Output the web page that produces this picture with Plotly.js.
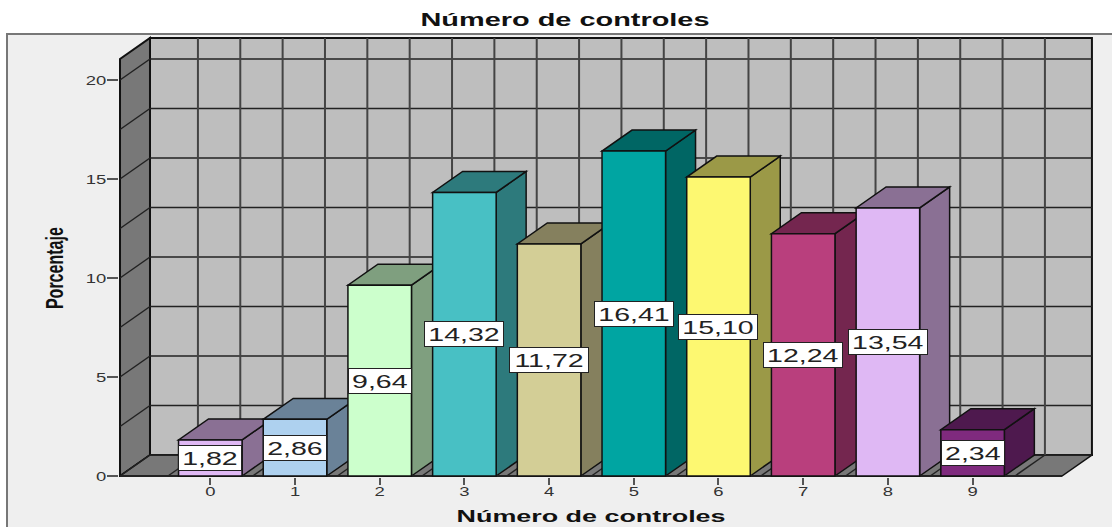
<!DOCTYPE html>
<html>
<head>
<meta charset="utf-8">
<script src="https://cdn.plot.ly/plotly-3.0.1.min.js"></script>
<style>html,body{margin:0;padding:0;background:#fff}</style>
</head>
<body>
<div id="chart" style="width:1112px;height:527px"></div>
<script>
const categories = [0,1,2,3,4,5,6,7,8,9];
const tickLabels = ['0','1','2','3','4','5','6','7','8','9'];
const percentages = [1.82,2.86,9.64,14.32,11.72,16.41,15.10,12.24,13.54,2.34];
const frontColors = ['#DFB8F4','#AED1EF','#CCFFCC','#48C0C4','#D3CE96','#00A5A2','#FDF871','#B93F7D','#DFB8F4','#7F2A7E'];
const depthColors = ['#8A7094','#6A8298','#7F9F7F','#2D7A7C','#85805E','#006664','#9B9947','#74264F','#8A7094','#4E194E'];
const yTicks = [0,5,10,15,20];
const wallLevels = [0,2.5,5,7.5,10,12.5,15,17.5,20];
const gridCats = [-0.5,0,0.5,1,1.5,2,2.5,3,3.5,4,4.5,5,5.5,6,6.5,7,7.5,8,8.5,9,9.5];

const xRange = [-1.0779, 10.4216];
const yRange = [-0.0505, 22.222];
const xLeft = -1.066, xRight = 10.055, yTop = 21.06;
const dx = 0.354, dy = 1.06, barW = 0.75;

const shapes = [];
const poly = (pts, fill, lw, lc) => shapes.push({
  type:'path', layer:'below', xref:'x', yref:'y',
  path:'M ' + pts.map(p => p[0] + ' ' + p[1]).join(' L ') + ' Z',
  fillcolor:fill, line:{color:lc||'#111', width:lw===undefined?1.5:lw}
});
const seg = (x0,y0,x1,y1,c,w) => shapes.push({
  type:'line', layer:'below', xref:'x', yref:'y', x0, y0, x1, y1, line:{color:c||'#222', width:w||1.5}
});

// page frame
shapes.push({type:'rect', layer:'below', xref:'paper', yref:'paper',
  x0:(7-119)/974, x1:1.03, y0:-0.2, y1:1.0045, fillcolor:'#EFEFEF', line:{color:'#777', width:2}});

// walls and floor
poly([[xLeft+dx,dy],[xRight+dx,dy],[xRight+dx,yTop+dy],[xLeft+dx,yTop+dy]], '#BEBEBE', 2);
poly([[xLeft,0],[xLeft+dx,dy],[xLeft+dx,yTop+dy],[xLeft,yTop]], '#787878', 2);
poly([[xLeft,0],[xRight,0],[xRight+dx,dy],[xLeft+dx,dy]], '#787878', 1.5);
wallLevels.forEach(h => {
  seg(xLeft+dx,h+dy,xRight+dx,h+dy);
  seg(xLeft,h,xLeft+dx,h+dy);
});
gridCats.forEach(c => {
  seg(c+dx,dy,c+dx,yTop+dy,'#444',2);
  seg(c,0,c+dx,dy,'#222',1.5);
});

// depth faces of the bars
percentages.forEach((v,i) => {
  const l = categories[i]-barW/2, r = categories[i]+barW/2;
  poly([[r,0],[r+dx,dy],[r+dx,v+dy],[r,v]], depthColors[i]);
  poly([[l,v],[r,v],[r+dx,v+dy],[l+dx,v+dy]], depthColors[i]);
});
seg(xLeft,0,xRight,0,'#222',2);

const annotations = percentages.map((v,i) => {
  const t = v.toFixed(2).replace('.',',');
  return {x:categories[i], y:v/2, xref:'x', yref:'y', text:t, showarrow:false,
    font:{family:'Liberation Sans', size:19, color:'#222'},
    bgcolor:'#FFFFFF', bordercolor:'#222', borderwidth:1, borderpad:0,
    width:t.length>4?78:62, height:24, xanchor:'center', yanchor:'middle'};
});
annotations.push({xref:'paper', yref:'paper', x:(591-119)/974, y:-39/441, yanchor:'middle', xanchor:'center',
  text:'Número de controles', showarrow:false,
  font:{family:'Liberation Sans', size:17, weight:700, color:'#111'}});
annotations.push({xref:'paper', yref:'paper', x:(54-119)/974, y:(477-268)/442, yanchor:'middle', xanchor:'center',
  textangle:-90, text:'Porcentaje', showarrow:false,
  font:{family:'Liberation Sans', size:24, weight:700, color:'#111'}});

const setLen = (t, len) => {
  t.setAttribute('lengthAdjust','spacingAndGlyphs');
  t.setAttribute('textLength', len);
};

Plotly.newPlot('chart', [{
  type:'bar', x:categories, y:percentages, width:barW,
  marker:{color:frontColors, line:{color:'#111', width:1.5}},
  hoverinfo:'x+y'
}], {
  width:1112, height:527, autosize:false,
  margin:{l:119, r:19, t:36, b:50, pad:0},
  paper_bgcolor:'#FFFFFF', plot_bgcolor:'rgba(0,0,0,0)',
  showlegend:false, shapes, annotations,
  title:{text:'Número de controles', x:565/1112, xanchor:'center', y:0.962, yanchor:'middle',
    font:{family:'Liberation Sans', size:18, weight:700, color:'#111'}},
  xaxis:{range:xRange, tickmode:'array', tickvals:categories, ticktext:tickLabels, ticks:'outside', ticklen:7, tickwidth:2,
    tickcolor:'#555', showgrid:false, zeroline:false, showline:false, ticklabelstandoff:-5,
    tickfont:{family:'Liberation Sans', size:13, color:'#333'}},
  yaxis:{range:yRange, tickmode:'array', tickvals:yTicks, ticks:'outside', ticklen:11, tickwidth:2,
    tickcolor:'#555', showgrid:false, zeroline:false, showline:false, ticklabelstandoff:-2,
    tickfont:{family:'Liberation Sans', size:13, color:'#333'}}
}, {displayModeBar:false, responsive:false}).then(gd => {
  gd.querySelectorAll('.xtick text, .ytick text').forEach(t => setLen(t, t.getComputedTextLength()*1.42));
  gd.querySelectorAll('.gtitle').forEach(t => setLen(t, 289));
  gd.querySelectorAll('.annotation-text').forEach(t => {
    if (t.textContent === 'Porcentaje') setLen(t, 82);
    else if (t.textContent === 'Número de controles') setLen(t, 269);
    else setLen(t, t.getComputedTextLength()*1.5);
  });
});
</script>
</body>
</html>
